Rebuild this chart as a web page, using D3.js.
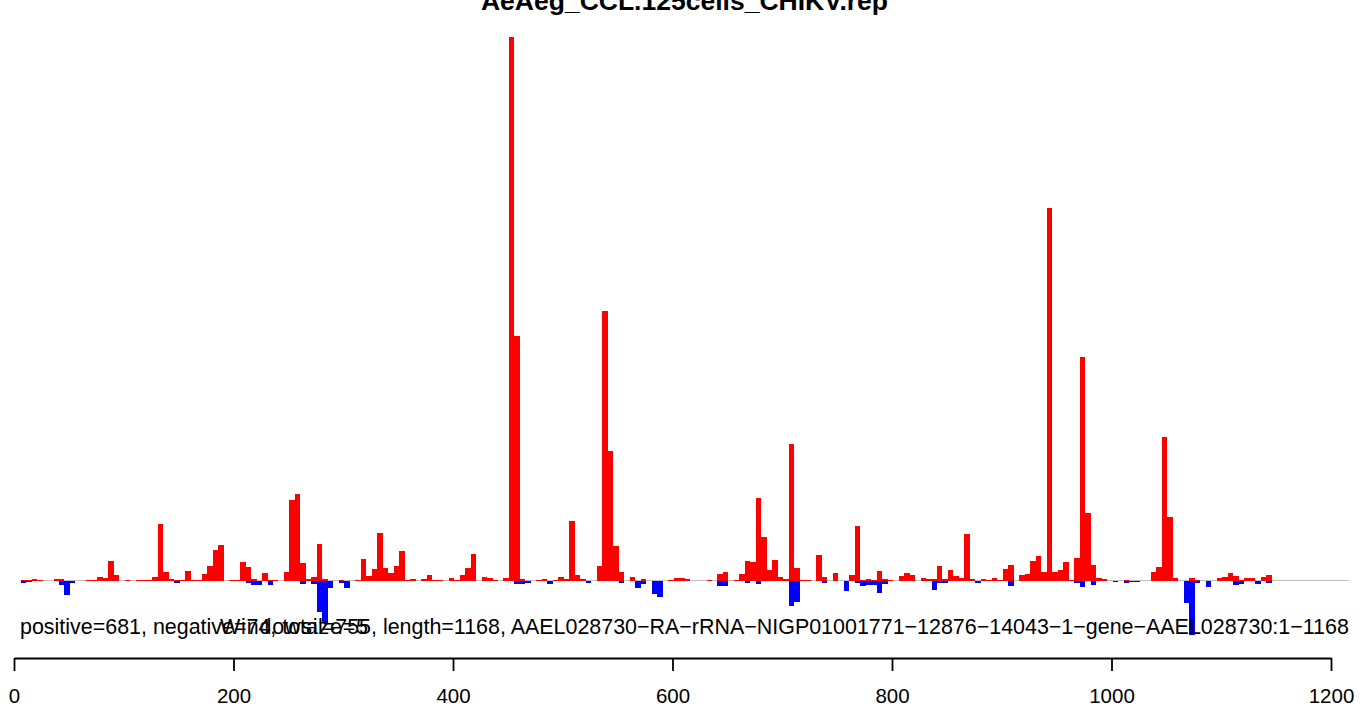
<!DOCTYPE html>
<html>
<head>
<meta charset="utf-8">
<script src="https://cdn.jsdelivr.net/npm/d3@7"></script>
<style>
  html, body { margin: 0; padding: 0; background: #fff; }
  svg { display: block; }
</style>
</head>
<body>
<svg id="chart" width="1372" height="709"></svg>
<script>
// ---- data (per 5-nt window, arbitrary units) ----
const title = "AeAeg_CCL.125cells_CHIKV.rep";
const summaryText = "positive=681, negative=74, total=755, length=1168, AAEL028730\u2212RA\u2212rRNA\u2212NIGP01001771\u221212876\u221214043\u22121\u2212gene\u2212AAEL028730:1\u22121168";
const windowText = "Windowsize=5";
const windowSize = 5;
const firstWindow = 6;
const xTicks = [0, 200, 400, 600, 800, 1000, 1200];

const positive = [
  0.5,1,1.5,1,0,0,1.5,1.5,0,0,
  0,0,1,0.5,3.5,3,19.5,5.5,0,0.5,
  0,0.5,0.5,1,3.5,56.5,8.5,1.5,0.5,0.5,
  9.5,0.5,0.5,6.5,14.5,30.5,35.5,0,0.5,0.5,
  18.5,13.5,1.5,0,7.5,0.5,0.5,0,8.5,80.5,
  86.5,17.5,1.5,3.5,36.5,1.5,0,0,0.5,0,
  0,0.5,21.5,4.5,11.5,47.5,12.5,7.5,14.5,29.5,
  0.5,1.5,0,1.5,5.5,0.5,0.5,0,2.5,0.5,
  5.5,12.5,26.5,0,3.5,2.5,1,0,2.5,543.5,
  244.5,1.5,0,0,1,1.5,0,0.5,3.5,1.5,
  59.5,5.5,1.5,0,0,14.5,269.5,129.5,34.5,8.5,
  0,3.5,0,1.5,0,0,0,0,1,2.5,
  2.5,1.5,0,0,0,0.5,0,6.5,8.5,0,
  0.5,6.5,19.5,18.5,82.5,43.5,10.5,20.5,3.5,1.5,
  136.5,12.5,0.5,0.5,0,25.5,3.5,0,7.5,0,
  0,5.5,54.5,0.5,1.5,0.5,9.5,1.5,0.5,0,
  4.5,7.5,5.5,0,2.5,1.5,1.5,14.5,1.5,10.5,
  4.5,2.5,46.5,1.5,0,1.5,0.5,2.5,0.5,11.5,
  15.5,0,6,6.5,19.5,24.5,8.5,372.5,8.5,10.5,
  18.5,0.5,22.5,223.5,67.5,15.5,2.5,1.5,0,0,
  0,0.5,0,0,0,0,8.5,13.5,143.5,63.5,
  2.5,0,0,2.5,1,0,0,0,2.5,4,
  7.5,4.5,0.5,2.5,2.5,0,4,5.5,0
];

const negative = [
  -2,-1,0,0,0,0,0,-4,-14.5,-2,
  0,0,0,0,0,0,0,-0.5,0,0,
  -0.5,0,0,0,0,0,0,0,-2,0,
  0,0,0,0,0,0,0,0,0,0,
  0,-2,-4,-4,0,-4,0,0,0,0,
  0,-3,0,-3,-31,-41,-7,0,-2,-7,
  0,0,0,0,0,0,0,0,0,0,
  0,0,0,0,0,0,0,0,0,0,
  0,0,0,0,0,0,0,0,0,0,
  -3,-3,-2,0,0,0,-3,0,0,0,
  0,0,0,-2,0,0,0,0,0,-2,
  0,0,-7,-3,0,-13,-16,0,0,0,
  0,0,0,0,-0.5,0,0,-5,-5,0,
  0,0,-2,0,-3,0,0,0,0,0,
  -25,-21,0,0,0,0,-2,0,0,0,
  -10,0,-2,-5,-4,-4,-12,-3,0,0,
  0,0,0,-0.5,0,0,-9,-2,-2,0,
  0,0,0,0,-2,0,0,0,0,0,
  -5,0,0,0,0,0,-0.5,0,0,0,
  0,0,-2,-6,0,-4,0,0,0,-1,
  0,-2,-1,-1,0,0,0,0,0,0,
  0,0,-22,-54,-2,0,-6,0,0,0,
  0,-4,-3,0,0,-3,0,-2,-0.5
];

// ---- drawing ----
const svg = d3.select("#chart");
const font = "'Liberation Sans', Arial, Helvetica, sans-serif";

const x = d3.scaleLinear().domain([0, 1200]).range([14, 1331]);
const y = d3.scaleLinear().domain([-54, 543.5]).range([634.5, 37]);

const starts = positive.map((_, i) => firstWindow + i * windowSize);

// title
svg.append("text")
  .attr("x", 684.5).attr("y", 10)
  .attr("text-anchor", "middle")
  .attr("font-family", font)
  .attr("font-weight", "bold")
  .attr("font-size", 26.5)
  .attr("fill", "#000")
  .text(title);

// zero line
svg.append("line")
  .attr("x1", x(5.5)).attr("x2", x(1216.5))
  .attr("y1", y(0)).attr("y2", y(0))
  .attr("stroke", "#bebebe").attr("stroke-width", 1);

// negative bars
svg.append("g").selectAll("rect")
  .data(negative.map((v, i) => ({s: starts[i], v})).filter(d => d.v < 0))
  .join("rect")
  .attr("x", d => x(d.s))
  .attr("width", d => x(d.s + windowSize) - x(d.s))
  .attr("y", y(0))
  .attr("height", d => y(d.v) - y(0))
  .attr("fill", "#0000ff")
  .attr("shape-rendering", "crispEdges");

// positive bars
svg.append("g").selectAll("rect")
  .data(positive.map((v, i) => ({s: starts[i], v})).filter(d => d.v > 0))
  .join("rect")
  .attr("x", d => x(d.s))
  .attr("width", d => x(d.s + windowSize) - x(d.s))
  .attr("y", d => y(d.v))
  .attr("height", d => y(0) - y(d.v))
  .attr("fill", "#ff0000")
  .attr("shape-rendering", "crispEdges");

// annotation texts
svg.append("text")
  .attr("x", 20).attr("y", 634)
  .attr("font-family", font).attr("font-size", 21.45)
  .attr("fill", "#000")
  .text(summaryText);

svg.append("text")
  .attr("x", 220).attr("y", 634)
  .attr("font-family", font).attr("font-size", 21.45)
  .attr("textLength", 148).attr("lengthAdjust", "spacing")
  .attr("fill", "#000")
  .text(windowText);

// x axis
const axis = d3.axisBottom(x)
  .tickValues(xTicks)
  .tickFormat(d3.format("d"))
  .tickSize(13)
  .tickSizeOuter(0)
  .tickPadding(17);

const g = svg.append("g")
  .attr("transform", `translate(0,${658})`)
  .call(axis);
g.select(".domain").attr("stroke", "#000").attr("stroke-width", 1.8);
g.selectAll(".tick line").attr("stroke", "#000").attr("stroke-width", 1.8);
g.selectAll(".tick text")
  .attr("font-family", font)
  .attr("font-size", 20.5)
  .attr("fill", "#000");
</script>
</body>
</html>
